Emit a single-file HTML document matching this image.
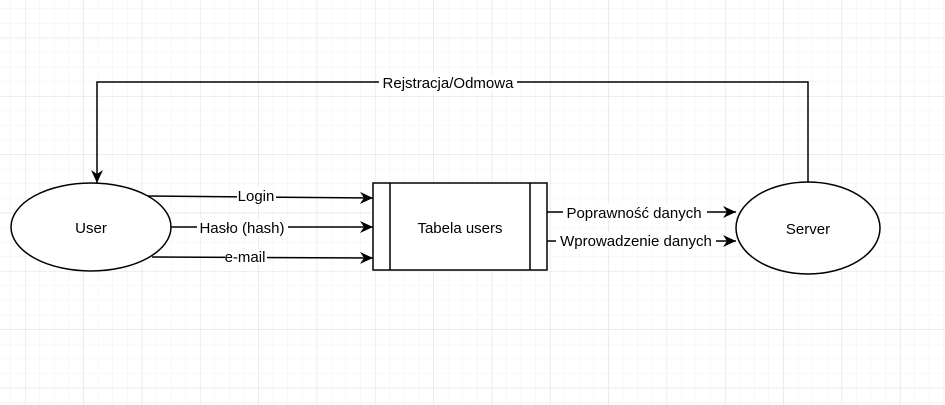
<!DOCTYPE html>
<html><head><meta charset="utf-8"><style>
html,body{margin:0;padding:0;background:#fff;}
svg{display:block;}
text{font-family:"Liberation Sans",Arial,sans-serif;font-size:15px;fill:#000;}
</style></head><body>
<svg width="945" height="405" viewBox="0 0 945 405" xmlns="http://www.w3.org/2000/svg">
<defs>
<pattern id="minor" x="10.4" y="8.5" width="14.58" height="14.58" patternUnits="userSpaceOnUse">
<path d="M0 0H14.58M0 0V14.58" stroke="#f0f0f0" stroke-width="1" fill="none"/>
</pattern>
<pattern id="major" x="25" y="37.7" width="58.33" height="58.33" patternUnits="userSpaceOnUse">
<path d="M0 0H58.33M0 0V58.33" stroke="#e0e0e0" stroke-width="1" fill="none"/>
</pattern>
<marker id="ar" markerWidth="14" markerHeight="14" refX="13" refY="6" orient="auto" markerUnits="userSpaceOnUse">
<path d="M0 0 L13 6 L0 12 L4 6 Z" fill="#000"/>
</marker>
</defs>
<rect width="945" height="405" fill="#fff"/>
<rect width="945" height="405" fill="url(#minor)"/>
<rect width="945" height="405" fill="url(#major)"/>
<g stroke="#000" stroke-width="1.5" fill="none">
<path d="M808 182 V82 H97 V183" marker-end="url(#ar)"/>
<line x1="147" y1="196" x2="373" y2="198" marker-end="url(#ar)"/>
<line x1="170" y1="227" x2="373" y2="227" marker-end="url(#ar)"/>
<line x1="152" y1="257" x2="373" y2="258" marker-end="url(#ar)"/>
<line x1="547" y1="212" x2="736" y2="212" marker-end="url(#ar)"/>
<line x1="547" y1="241" x2="736" y2="241" marker-end="url(#ar)"/>
</g>
<ellipse cx="91" cy="227" rx="80" ry="44" fill="#fff" stroke="#000" stroke-width="1.5"/>
<ellipse cx="808" cy="228" rx="72" ry="46" fill="#fff" stroke="#000" stroke-width="1.5"/>
<rect x="373" y="183" width="174" height="87" fill="#fff" stroke="#000" stroke-width="1.5"/>
<line x1="390" y1="183" x2="390" y2="270" stroke="#000" stroke-width="1.5"/>
<line x1="530" y1="183" x2="530" y2="270" stroke="#000" stroke-width="1.5"/>
<text x="91" y="233" text-anchor="middle" font-size="16">User</text>
<text x="808" y="234" text-anchor="middle" font-size="16">Server</text>
<text x="460" y="233" text-anchor="middle" font-size="16">Tabela users</text>
<g>
<rect x="379" y="74" width="138" height="17" fill="#fff"/>
<text x="448" y="88" text-anchor="middle">Rejstracja/Odmowa</text>
<rect x="237" y="188" width="39" height="17" fill="#fff"/>
<text x="256" y="201" text-anchor="middle">Login</text>
<rect x="197" y="219" width="91" height="17" fill="#fff"/>
<text x="242" y="233" text-anchor="middle">Hasło (hash)</text>
<rect x="225" y="249" width="42" height="16" fill="#fff"/>
<text x="245" y="262" text-anchor="middle">e-mail</text>
<rect x="563" y="204" width="144" height="17" fill="#fff"/>
<text x="634" y="218" text-anchor="middle">Poprawność danych</text>
<rect x="556" y="232" width="160" height="17" fill="#fff"/>
<text x="636" y="246" text-anchor="middle">Wprowadzenie danych</text>
</g>
</svg>
</body></html>
